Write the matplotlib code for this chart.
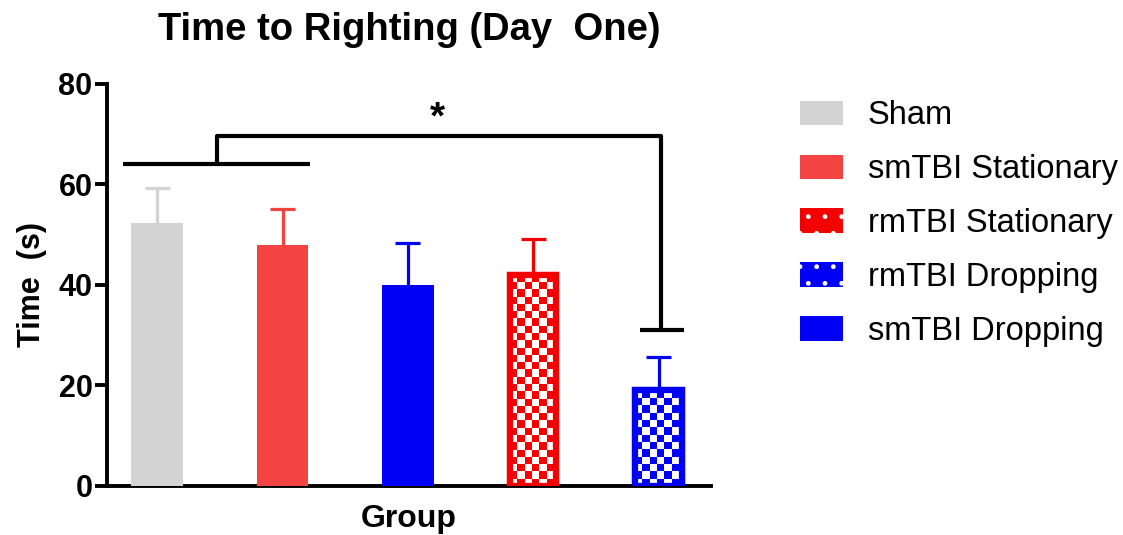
import numpy as np
import matplotlib
matplotlib.use("Agg")
import matplotlib.pyplot as plt
from matplotlib.patches import Patch

plt.rcParams['font.family'] = ['Liberation Sans', 'DejaVu Sans']

# Groups in plotting order
groups = ["Sham", "smTBI Stationary", "smTBI Dropping", "rmTBI Stationary", "rmTBI Dropping"]
means = [52.4, 48.0, 40.0, 42.0, 19.0]
sems = [6.9, 7.2, 8.4, 7.1, 6.7]
colors = ["#d3d3d3", "#f44343", "#0000f5", "#f50000", "#0000f5"]
checkered = [False, False, False, True, True]

legend_order = ["Sham", "smTBI Stationary", "rmTBI Stationary", "rmTBI Dropping", "smTBI Dropping"]
yticks = [0, 20, 40, 60, 80]

fig = plt.figure(figsize=(11.23, 5.35), dpi=100)
ax = fig.add_axes([0.0953, 0.092, 0.538, 0.751])

x = np.arange(len(groups))
width = 0.41
cap_half = 0.1

for xi, m, s, c, chk in zip(x, means, sems, colors, checkered):
    if chk:
        # slightly narrower so the thick outline stays within the bar footprint
        w = width - 0.04
        bar = ax.bar(xi, m, w, color="white", edgecolor=c, linewidth=4.5, zorder=3)[0]
        # checkerboard fill clipped to the bar
        cw, ch = 0.058, 1.45
        nx = int(np.ceil(w / cw)) + 1
        ny = int(np.ceil(m / ch)) + 1
        board = (np.add.outer(np.arange(ny), np.arange(nx)) % 2).astype(float)
        rgb = np.array(matplotlib.colors.to_rgb(c))
        img = np.ones((ny, nx, 3))
        img[board == 1] = rgb
        im = ax.imshow(img, extent=(xi - w / 2, xi - w / 2 + nx * cw, 0, ny * ch),
                       origin="lower", interpolation="nearest", aspect="auto", zorder=3.5)
        im.set_clip_path(bar)
        ax.bar(xi, m, w, color="none", edgecolor=c, linewidth=4.5, zorder=4)
    else:
        ax.bar(xi, m, width, color=c, edgecolor="none", zorder=3)
    # upper error bar only
    ax.vlines(xi, m, m + s, color=c, linewidth=2.3, zorder=2)
    ax.hlines(m + s, xi - cap_half, xi + cap_half, color=c, linewidth=2.3, zorder=2)

ax.set_xlim(-0.4, 4.42)
ax.set_ylim(0, 80)
ax.set_yticks(yticks)
ax.set_yticklabels([str(t) for t in yticks], fontsize=22, fontweight="bold")
ax.set_xticks([])
for side in ("top", "right"):
    ax.spines[side].set_visible(False)
for side in ("left", "bottom"):
    ax.spines[side].set_linewidth(2.8)
ax.tick_params(axis="y", width=2.8, length=8.5, pad=2)

ax.set_ylabel("Time  (s)", fontsize=22, fontweight="bold", labelpad=8)
ax.set_xlabel("Group", fontsize=23, fontweight="bold", labelpad=13)
ax.set_title("Time to Righting (Day  One)", fontsize=27.5, fontweight="bold", pad=32)

# significance bracket
lw = 3.0
kw = dict(color="black", linewidth=lw, clip_on=False, solid_capstyle="butt", zorder=5)
ax.plot([-0.27, 1.22], [64.0, 64.0], **kw)
ax.plot([0.48, 0.48, 4.02, 4.02], [64.0, 69.6, 69.6, 31.1], **kw)
ax.plot([3.85, 4.2], [31.1, 31.1], **kw)
ax.text(2.24, 69.5, "*", ha="center", va="bottom", fontsize=28, fontweight="bold")

# legend
handles = []
for name in legend_order:
    i = groups.index(name)
    if checkered[i]:
        handles.append(Patch(facecolor=colors[i], edgecolor="white", linewidth=0, hatch=".", label=name))
    else:
        handles.append(Patch(facecolor=colors[i], edgecolor="none", label=name))
fig.legend(handles=handles, loc="upper left", bbox_to_anchor=(0.712, 0.8125), frameon=False,
           borderaxespad=0, borderpad=0,
           fontsize=23.5, handlelength=1.32, handleheight=0.77, handletextpad=0.77, labelspacing=0.7)

fig.savefig("out.png", dpi=100)
